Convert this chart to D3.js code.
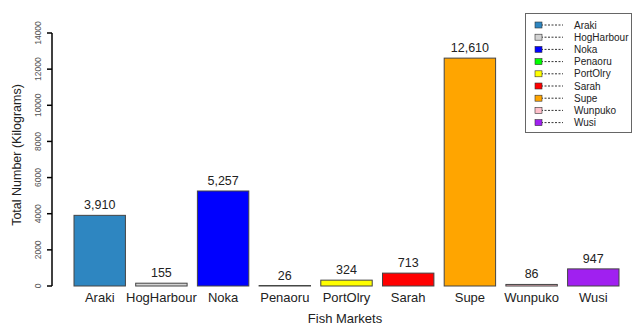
<!DOCTYPE html>
<html><head><meta charset="utf-8">
<script src="https://cdn.jsdelivr.net/npm/d3@7"></script>
<style>body{margin:0;background:#fff;}svg{display:block;font-family:"Liberation Sans",Arial,sans-serif;}</style>
</head><body>
<svg id="chart" width="635" height="325"></svg>
<script>
const categories = ["Araki","HogHarbour","Noka","Penaoru","PortOlry","Sarah","Supe","Wunpuko","Wusi"];
const values = [3910,155,5257,26,324,713,12610,86,947];
const colors = ["#2E86C1","#D3D3D3","#0000FF","#00FF00","#FFFF00","#FF0000","#FFA500","#FFC0CB","#A020F0"];
const yTicks = [0,2000,4000,6000,8000,10000,12000,14000];

const svg = d3.select("#chart");
const y = d3.scaleLinear().domain([0,14000]).range([286,33]);
const x = d3.scaleBand().domain(categories).range([74,619]).paddingInner(0.2/1.2).paddingOuter(0);
const fmt = d3.format(",");

// y axis
const gy = svg.append("g").attr("transform","translate(52,0)");
gy.append("path").attr("d","M0,"+y(0)+"V"+y(14000)).attr("stroke","#000").attr("stroke-width",1.5).attr("fill","none");
gy.selectAll("line.tk").data(yTicks).join("line").attr("class","tk")
  .attr("x1",-5).attr("x2",0).attr("y1",d=>y(d)).attr("y2",d=>y(d)).attr("stroke","#000").attr("stroke-width",1.5);
gy.selectAll("text.tl").data(yTicks).join("text").attr("class","tl")
  .attr("transform",d=>"translate(-11,"+y(d)+") rotate(-90)")
  .attr("text-anchor","middle").attr("fill","#555").style("font-size","8.5px").text(d=>d);

svg.append("text").attr("transform","translate(21,155) rotate(-90)").attr("text-anchor","middle")
  .style("font-size","12.5px").attr("fill","#222").text("Total Number (Kilograms)");

// bars
svg.append("g").selectAll("rect").data(categories).join("rect")
  .attr("x",d=>x(d)).attr("width",x.bandwidth())
  .attr("y",(d,i)=>y(values[i])).attr("height",(d,i)=>y(0)-y(values[i]))
  .attr("fill",(d,i)=>colors[i]).attr("stroke","#444").attr("stroke-width",1);

// value labels
svg.append("g").selectAll("text").data(categories).join("text")
  .attr("x",d=>x(d)+x.bandwidth()/2).attr("y",(d,i)=>y(values[i])-6)
  .attr("text-anchor","middle").style("font-size","12.5px").attr("fill","#222")
  .text((d,i)=>fmt(values[i]));

// x axis labels
const xAxis = d3.axisBottom(x).tickSize(0).tickPadding(0);
const gx = svg.append("g").attr("transform","translate(0,290)").call(xAxis);
gx.select(".domain").remove();
gx.selectAll(".tick text").attr("dy","0.71em").attr("y",3).style("font-size","13px").style("font-family","Liberation Sans, Arial, sans-serif").attr("fill","#222");

svg.append("text").attr("x",345).attr("y",323).attr("text-anchor","middle")
  .style("font-size","13px").attr("fill","#222").text("Fish Markets");

// legend
const lg = svg.append("g");
lg.append("rect").attr("x",525.5).attr("y",13.5).attr("width",106).attr("height",119)
  .attr("fill","#fff").attr("stroke","#666").attr("stroke-width",1);
const rows = lg.selectAll("g.row").data(categories).join("g").attr("class","row")
  .attr("transform",(d,i)=>"translate(0,"+(25+i*12.2)+")");
rows.append("line").attr("x1",541).attr("x2",563).attr("y1",0).attr("y2",0)
  .attr("stroke","#333").attr("stroke-dasharray","2,1.5").attr("stroke-width",1);
rows.append("rect").attr("x",535).attr("y",-3).attr("width",7).attr("height",6)
  .attr("fill",(d,i)=>colors[i]).attr("stroke","#333").attr("stroke-width",0.6);
rows.append("text").attr("x",574).attr("y",3.5).style("font-size","10px").attr("fill","#222").text(d=>d);
</script>
</body></html>
